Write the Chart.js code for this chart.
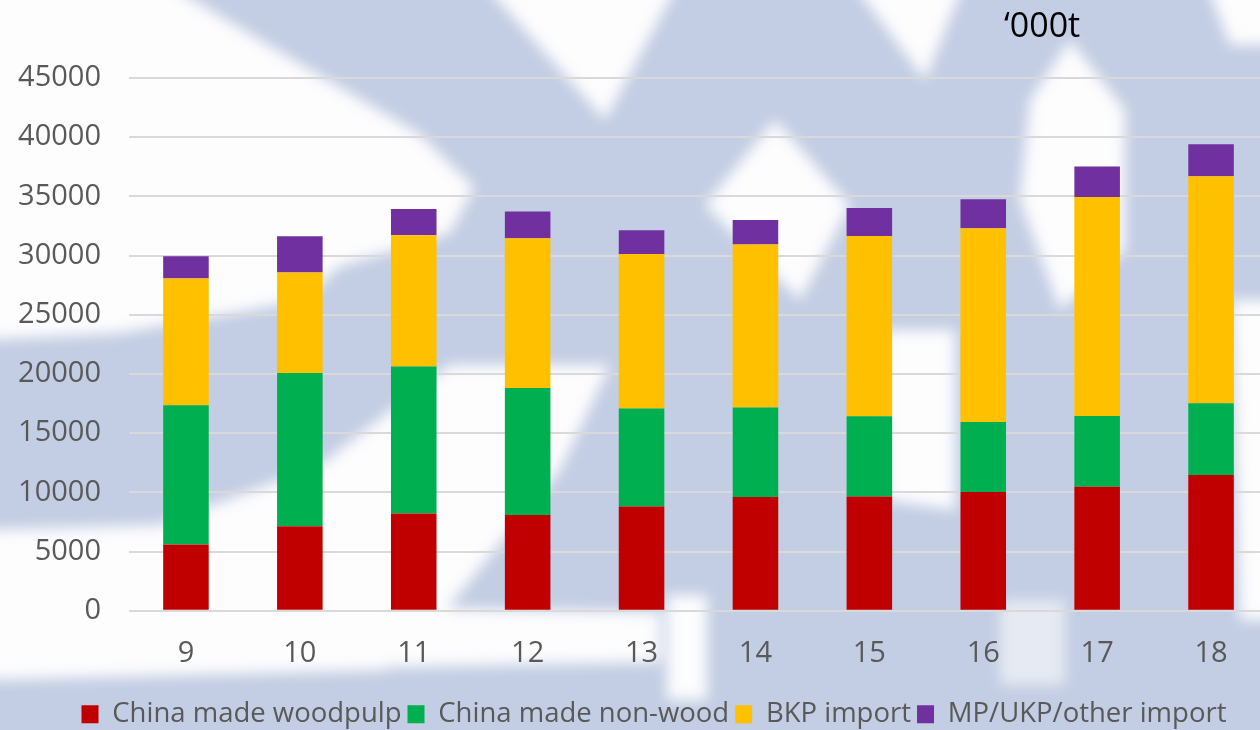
<!DOCTYPE html>
<html lang="en">
<head>
    <meta charset="UTF-8">
    <title>Pulp supply</title>
    <script src="https://cdn.jsdelivr.net/npm/chart.js"></script>
    <style>
        html, body { margin: 0; padding: 0; overflow: hidden; background: #ffffff; }
        #wrap { position: relative; width: 1268px; height: 730px; }
        #bg { position: absolute; left: 0; top: 0; }
        #pulpChart { position: relative; }
        #unit { position: absolute; left: 1004px; top: 7px; font: 34px/1 "Open Sans", sans-serif; color: #000; }
    </style>
</head>
<body>
    <div id="wrap">
        <!-- faint watermark behind the chart -->
        <svg id="bg" width="1268" height="730">
            <defs><filter id="soft"><feGaussianBlur stdDeviation="7"/></filter></defs>
            <rect width="1268" height="730" fill="#C3CDE3"/>
            <g fill="#FDFDFE" filter="url(#soft)">
                <polygon points="-20,-20 160,-20 305,67 418,133 474,187 450,233 338,267 305,300 120,333 -20,340"/>
                <polygon points="480,-20 680,-20 605,120"/>
                <polygon points="850,-20 965,-20 925,80"/>
                <polygon points="1205,-20 1290,-20 1290,45 1230,45"/>
                <polygon points="775,120 850,205 800,300 705,205"/>
                <polygon points="1070,40 1125,110 1125,250 1060,310 1020,200 1030,100"/>
                <polygon points="-20,530 160,525 320,465 450,365 610,365 560,470 450,605 385,670 -20,680"/>
                <polygon points="-20,600 660,612 660,662 -20,675"/>
                <polygon points="885,330 955,330 955,510 885,500"/>
                <polygon points="667,595 707,595 707,700 667,700"/>
                <polygon points="1000,600 1065,600 1065,685 1000,685" opacity="0.6"/>
                <polygon points="1232,300 1290,300 1290,620 1240,620"/>
            </g>
        </svg>
        <canvas id="pulpChart"></canvas>
        <div id="unit">&lsquo;000t</div>
    </div>

    <script>
        // years (20xx), values in '000 t
        const years = ['9', '10', '11', '12', '13', '14', '15', '16', '17', '18'];
        const chinaWood = [5590, 7140, 8210, 8090, 8800, 9610, 9650, 10030, 10470, 11470];
        const chinaNonWood = [11770, 12940, 12420, 10730, 8280, 7550, 6780, 5920, 5980, 6060];
        const bkpImport = [10700, 8480, 11080, 12640, 13060, 13770, 15230, 16360, 18500, 19160];
        const otherImport = [1880, 3070, 2230, 2260, 2000, 2080, 2360, 2450, 2570, 2720];
        const yTicks = [0, 5000, 10000, 15000, 20000, 25000, 30000, 35000, 40000, 45000];

        const font = { family: '"Open Sans", sans-serif', size: 29 };

        function ds(label, data, color) {
            return {
                label: label,
                data: data,
                backgroundColor: color,
                borderWidth: 0,
                barPercentage: 0.4,
                categoryPercentage: 1.0
            };
        }

        // nudge the legend a little to the right and down, like the original
        const legendShift = {
            id: 'legendShift',
            afterLayout(chart) {
                const lg = chart.legend;
                lg.left += 20; lg.right += 20;
                lg.top += 8; lg.bottom += 8;
            }
        };

        new Chart(document.getElementById('pulpChart'), {
            type: 'bar',
            data: {
                labels: years,
                datasets: [
                    ds('China made woodpulp', chinaWood, '#C00000'),
                    ds('China made non-wood', chinaNonWood, '#00B050'),
                    ds('BKP import', bkpImport, '#FFC000'),
                    ds('MP/UKP/other import', otherImport, '#7030A0')
                ]
            },
            options: {
                responsive: true,
                maintainAspectRatio: false,
                animation: false,
                layout: { padding: { top: 78, right: 0, left: 0, bottom: 0 } },
                plugins: {
                    tooltip: { enabled: false },
                    legend: {
                        position: 'bottom',
                        labels: {
                            font: { family: '"Open Sans", sans-serif', size: 27.5 },
                            color: '#595959',
                            boxWidth: 17,
                            boxHeight: 18,
                            padding: 6
                        }
                    }
                },
                scales: {
                    x: {
                        stacked: true,
                        grid: { display: false },
                        border: { display: false },
                        afterFit: axis => { axis.height -= 3; },
                        ticks: { font: font, color: '#595959', padding: 18 }
                    },
                    y: {
                        stacked: true,
                        min: 0,
                        max: 45000,
                        afterBuildTicks: axis => { axis.ticks = yTicks.map(v => ({ value: v })); },
                        grid: { color: '#D9D9D9', lineWidth: 2, drawTicks: false },
                        border: { display: false },
                        afterFit: axis => { axis.width = 129; },
                        ticks: {
                            font: font,
                            color: '#595959',
                            padding: 28,
                            callback: v => String(v)
                        }
                    }
                }
            },
            plugins: [legendShift]
        });
    </script>
</body>
</html>
